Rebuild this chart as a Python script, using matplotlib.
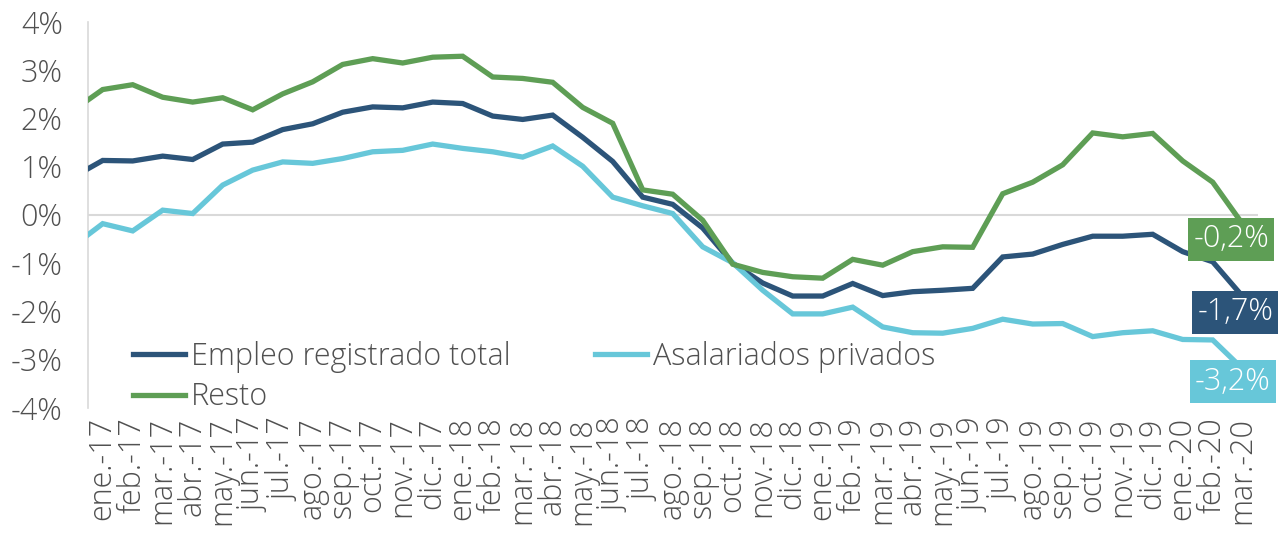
import numpy as np
import matplotlib
matplotlib.use("Agg")
import matplotlib.pyplot as plt

plt.rcParams['font.family'] = ['Open Sans', 'DejaVu Sans']

months = ['ene.-17', 'feb.-17', 'mar.-17', 'abr.-17', 'may.-17', 'jun.-17', 'jul.-17',
          'ago.-17', 'sep.-17', 'oct.-17', 'nov.-17', 'dic.-17',
          'ene.-18', 'feb.-18', 'mar.-18', 'abr.-18', 'may.-18', 'jun.-18', 'jul.-18',
          'ago.-18', 'sep.-18', 'oct.-18', 'nov.-18', 'dic.-18',
          'ene.-19', 'feb.-19', 'mar.-19', 'abr.-19', 'may.-19', 'jun.-19', 'jul.-19',
          'ago.-19', 'sep.-19', 'oct.-19', 'nov.-19', 'dic.-19',
          'ene.-20', 'feb.-20', 'mar.-20']

# first value of each series is the preceding month (dic.-16), only partly visible at the left edge
empleo_total = [0.77,
                1.12, 1.11, 1.21, 1.14, 1.46, 1.50, 1.76, 1.88, 2.12, 2.23, 2.21, 2.33,
                2.30, 2.04, 1.97, 2.06, 1.60, 1.10, 0.36, 0.21, -0.28, -1.01, -1.42, -1.69,
                -1.69, -1.43, -1.68, -1.60, -1.57, -1.53, -0.88, -0.82, -0.62, -0.45, -0.45, -0.41,
                -0.77, -0.98, -1.70]
asalariados = [-0.66,
               -0.19, -0.34, 0.09, 0.02, 0.61, 0.92, 1.09, 1.06, 1.16, 1.30, 1.33, 1.46,
               1.37, 1.30, 1.19, 1.42, 1.00, 0.36, 0.18, 0.02, -0.67, -1.00, -1.57, -2.06,
               -2.06, -1.92, -2.33, -2.45, -2.46, -2.36, -2.17, -2.27, -2.26, -2.53, -2.45, -2.41,
               -2.59, -2.60, -3.20]
resto = [2.15,
         2.59, 2.69, 2.43, 2.33, 2.42, 2.17, 2.50, 2.75, 3.11, 3.23, 3.14, 3.26,
         3.28, 2.85, 2.82, 2.74, 2.22, 1.89, 0.51, 0.42, -0.12, -1.03, -1.20, -1.29,
         -1.32, -0.93, -1.05, -0.77, -0.67, -0.68, 0.43, 0.67, 1.03, 1.69, 1.61, 1.68,
         1.11, 0.67, -0.20]

series_names = ['Empleo registrado total', 'Asalariados privados', 'Resto']
end_labels = ['-1,7%', '-3,2%', '-0,2%']
yticks = [-4, -3, -2, -1, 0, 1, 2, 3, 4]

colors = ['#2C5479', '#67C7D9', '#5E9E55']
text_color = '#505050'
grid_color = '#D9D9D9'
FS = 22
FW = 'light'

fig = plt.figure(figsize=(12.78, 5.37), dpi=100)
ax = fig.add_axes([87.7 / 1278, 1 - 407.5 / 537, 1170 / 1278, 386 / 537])

x = np.arange(-1, len(months))
lines = []
for vals, c, name in zip([empleo_total, asalariados, resto], colors, series_names):
    ln, = ax.plot(x, vals, color=c, lw=3.8, label=name, solid_joinstyle='miter', zorder=3)
    lines.append(ln)

ax.axhline(0, color=grid_color, lw=1.5, zorder=1)
ax.set_xlim(-0.5, len(months) - 0.5)
ax.set_ylim(-4, 4)

ax.set_yticks(yticks)
ax.set_yticklabels([f'{v}%' for v in yticks])
ax.set_xticks(np.arange(len(months)))
ax.set_xticklabels(months, rotation=90)
ax.tick_params(axis='y', length=0, pad=18, labelsize=FS, labelcolor=text_color)
ax.tick_params(axis='x', length=0, pad=7, labelsize=FS, labelcolor=text_color)
for lab in ax.get_xticklabels() + ax.get_yticklabels():
    lab.set_fontweight(FW)

for s in ['top', 'right', 'bottom']:
    ax.spines[s].set_visible(False)
ax.spines['left'].set_color(grid_color)
ax.spines['left'].set_linewidth(1.2)

# end-of-series labels
last = len(months) - 1
offsets = [(-5.2, -11.2), (-7.0, -9.4), (-8.4, -11.0)]
for vals, c, txt, off in zip([empleo_total, asalariados, resto], colors, end_labels, offsets):
    ax.annotate(txt, xy=(last, vals[-1]), xytext=off, textcoords='offset points',
                ha='center', va='center', color='white', fontsize=FS, fontweight=FW,
                bbox=dict(boxstyle='square,pad=0.18', fc=c, ec='none'),
                annotation_clip=False, zorder=5)

handles = [lines[0], lines[2], lines[1]]
leg = ax.legend(handles, [h.get_label() for h in handles], ncol=2, loc='upper left',
                bbox_to_anchor=(0.0387, 0.172), frameon=False, borderpad=0, borderaxespad=0,
                handlelength=1.7, handletextpad=0.2, columnspacing=2.75,
                labelspacing=0.27, prop={'size': FS, 'weight': FW})
for t in leg.get_texts():
    t.set_color(text_color)

fig.savefig('out.png', dpi=100)
